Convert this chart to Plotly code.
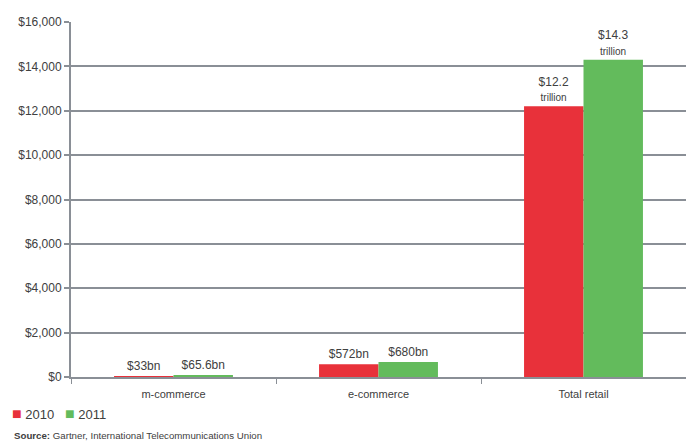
import plotly.graph_objects as go

categories = ["m-commerce", "e-commerce", "Total retail"]
series_names = ["2010", "2011"]
series_colors = ["#e8313a", "#63bb5c"]
values_2010 = [33, 572, 12200]
values_2011 = [65.6, 680, 14300]
labels_2010 = ["$33bn", "$572bn", "$12.2<br><span style='font-size:10px'>trillion</span>"]
labels_2011 = ["$65.6bn", "$680bn", "$14.3<br><span style='font-size:10px'>trillion</span>"]
y_ticks = [0, 2000, 4000, 6000, 8000, 10000, 12000, 14000, 16000]
y_tick_labels = ["$0", "$2,000", "$4,000", "$6,000", "$8,000", "$10,000", "$12,000", "$14,000", "$16,000"]

font_family = "Liberation Sans, Arial, sans-serif"
text_color = "#404040"

fig = go.Figure()
for name, vals, labs, col in zip(series_names, [values_2010, values_2011],
                                 [labels_2010, labels_2011], series_colors):
    fig.add_trace(go.Bar(
        name=name, x=categories, y=vals, text=labs,
        textposition="outside", cliponaxis=False,
        marker=dict(color=col, line=dict(width=0)),
        textfont=dict(size=12, color=text_color, family=font_family),
        showlegend=False,
    ))

legend_text = "&nbsp;&nbsp;&nbsp;".join(
    f"<span style='color:{c};font-size:16px'>■</span>&nbsp;{n}" for n, c in zip(series_names, series_colors)
)

fig.update_layout(
    width=686, height=443,
    margin=dict(l=71, r=0, t=22, b=66),
    paper_bgcolor="white", plot_bgcolor="white",
    barmode="group", bargap=0.42, bargroupgap=0,
    font=dict(family=font_family, size=11, color=text_color),
    uniformtext=dict(mode=False),
    annotations=[
        dict(text=legend_text, xref="paper", yref="paper", x=-0.1, y=-0.104,
             xanchor="left", yanchor="middle", showarrow=False,
             font=dict(size=13, color=text_color, family=font_family)),
        dict(text="<b>Source:</b> Gartner, International Telecommunications Union",
             xref="paper", yref="paper", x=-0.096, y=-0.166,
             xanchor="left", yanchor="middle", showarrow=False,
             font=dict(size=9.7, color=text_color, family=font_family)),
    ],
)
fig.update_xaxes(
    type="category", showgrid=False, showline=True, linecolor="#8a8f96", linewidth=2,
    ticks="outside", tickson="boundaries", ticklen=5, tickcolor="#8a8f96", tickwidth=1,
    tickfont=dict(size=11, color=text_color), fixedrange=True, automargin=False,
    ticklabelstandoff=6,
)
fig.update_yaxes(
    range=[0, 16000], tickvals=y_ticks, ticktext=y_tick_labels,
    showgrid=True, gridcolor="#8a8f96", gridwidth=2,
    showline=True, linecolor="#8a8f96", linewidth=2,
    ticks="outside", ticklen=5, tickcolor="#8a8f96", tickwidth=2,
    tickfont=dict(size=12, color=text_color), zeroline=False, automargin=False,
)

fig.write_html("out.html", config={"displayModeBar": False},
               post_script="document.body.style.margin='0px';")
